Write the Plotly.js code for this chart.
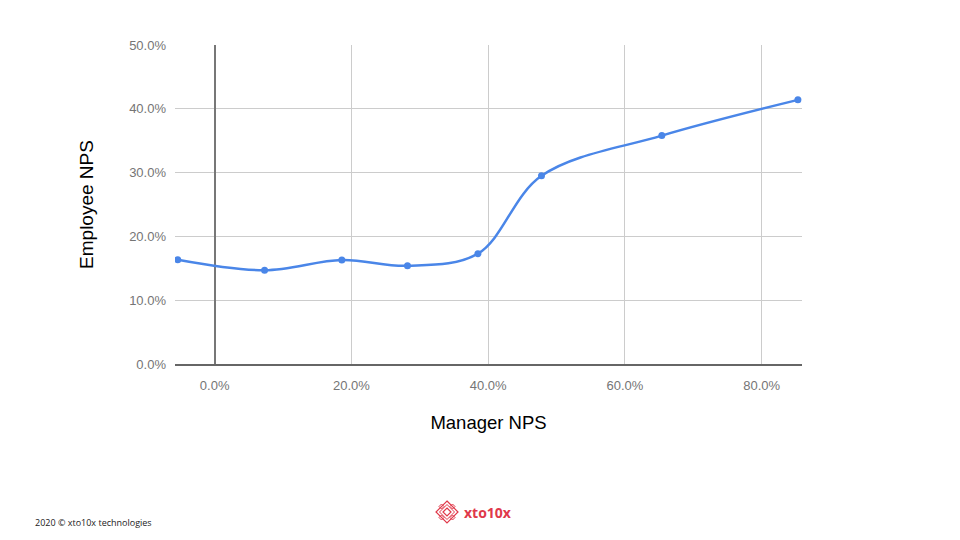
<!DOCTYPE html>
<html>
<head>
<meta charset="utf-8">
<script src="https://cdn.plot.ly/plotly-3.0.1.min.js"></script>
<style>html,body{margin:0;padding:0;background:#fff;}#chart{width:960px;height:540px;}</style>
</head>
<body>
<div id="chart"></div>
<script>
// Data (percent)
const managerNPS = [-5.4, 7.3, 18.6, 28.2, 38.5, 47.8, 65.4, 85.3];
const employeeNPS = [16.35, 14.7, 16.3, 15.4, 17.3, 29.5, 35.8, 41.4];
const xTickVals = [0, 20, 40, 60, 80];
const xTickText = ["0.0%", "20.0%", "40.0%", "60.0%", "80.0%"];
const yTickVals = [0, 10, 20, 30, 40, 50];
const yTickText = ["0.0%", "10.0%", "20.0%", "30.0%", "40.0%", "50.0%"];
const xTitle = "Manager NPS";
const yTitle = "Employee NPS";
const footerText = "2020 © xto10x technologies";
const logoText = "xto10x";

const trace = {
  x: managerNPS, y: employeeNPS, type: "scatter", mode: "lines+markers",
  line: {shape: "spline", smoothing: 1, color: "#4a86e8", width: 2.5},
  marker: {size: 7, color: "#4a86e8"},
  hoverinfo: "x+y"
};

const L = 175, T = 45, W = 627, H = 319;
function px2paper(x, y) { return [(x-L)/W, (T+H-y)/H]; }

const layout = {
  width: 960, height: 540,
  margin: {l: L, r: 960-L-W, t: T, b: 540-T-H},
  paper_bgcolor: "#fff", plot_bgcolor: "#fff",
  showlegend: false,
  font: {family: "Arial, 'Liberation Sans', sans-serif"},
  xaxis: {
    range: [-5.8, 85.9], tickvals: xTickVals, ticktext: xTickText,
    showgrid: true, gridcolor: "#cccccc", gridwidth: 1,
    zeroline: true, zerolinecolor: "#777777", zerolinewidth: 2,
    showline: true, linecolor: "#666666", linewidth: 2,
    ticks: "", ticklabelstandoff: 8,
    tickfont: {size: 13, color: "#757575"},
    title: {text: xTitle, font: {size: 18.5, color: "#000"}, standoff: 24}
  },
  yaxis: {
    range: [0, 50], tickvals: yTickVals, ticktext: yTickText,
    showgrid: true, gridcolor: "#cccccc", gridwidth: 1,
    zeroline: false, showline: false,
    ticks: "", ticklabelstandoff: 8,
    tickfont: {size: 13, color: "#757575"},
    title: {text: yTitle, font: {size: 19, color: "#000"}, standoff: 30}
  },
  shapes: [],
  annotations: [
    {text: footerText, xref: "paper", yref: "paper", x: px2paper(33, 0)[0], y: px2paper(0, 522)[1],
     xanchor: "left", yanchor: "middle", showarrow: false,
     font: {family: "'Open Sans', sans-serif", size: 9, color: "#222"}},
    {text: "<b>" + logoText + "</b>", xref: "paper", yref: "paper", x: px2paper(462, 0)[0], y: px2paper(0, 512)[1],
     xanchor: "left", yanchor: "middle", showarrow: false,
     font: {family: "'Open Sans', sans-serif", size: 14, color: "#e0394a"}}
  ]
};

// logo diamonds
const cx = 447, cy = 512;
function dpath(x, y, r) {
  const p = [[x, y-r],[x+r, y],[x, y+r],[x-r, y]].map(q => px2paper(q[0], q[1]));
  return "M" + p.map(q => q[0] + "," + q[1]).join("L") + "Z";
}
const logoParts = [[cx, cy, 11, 1.2], [cx, cy, 7.5, 1], [cx, cy, 4, 1.2],
  [cx-5.5, cy-5.5, 2.5, 1], [cx+5.5, cy-5.5, 2.5, 1], [cx-5.5, cy+5.5, 2.5, 1], [cx+5.5, cy+5.5, 2.5, 1]];
layout.shapes = logoParts.map(d => ({type: "path", xref: "paper", yref: "paper",
  path: dpath(d[0], d[1], d[2]), line: {color: "#e0394a", width: d[3]}}));

Plotly.newPlot("chart", [trace], layout, {displayModeBar: false, staticPlot: true});
</script>
</body>
</html>
